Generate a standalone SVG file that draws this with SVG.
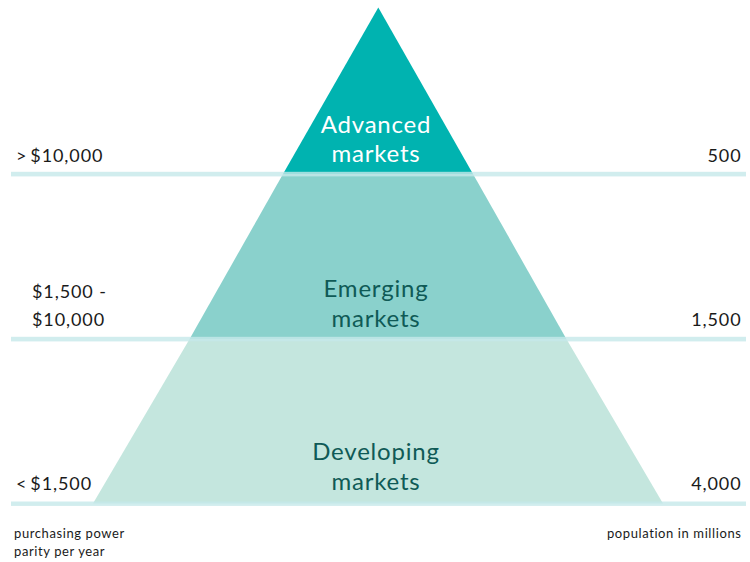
<svg xmlns="http://www.w3.org/2000/svg" width="750" height="562" viewBox="0 0 750 562">
  <style>
    .lbl { font-family: Lato, "Open Sans", "Liberation Sans", sans-serif; font-size: 18px; letter-spacing: 0.9px; fill: #1a1a1a; }
    .cap { font-family: Lato, "Open Sans", "Liberation Sans", sans-serif; font-size: 13px; letter-spacing: 0.6px; fill: #1a1a1a; }
    .tier { font-family: Lato, "Open Sans", "Liberation Sans", sans-serif; font-size: 24px; letter-spacing: 0.8px; text-anchor: middle; }
    .divider { fill: #c6e9ea; opacity: 0.8; }
  </style>
  <rect width="750" height="562" fill="#ffffff"/>

  <!-- pyramid tiers -->
  <g id="developing">
    <polygon points="189.6,339 566.4,339 663,503.5 93,503.5" fill="#c4e6de"/>
    <text class="tier" x="376" y="460" fill="#0f5a56">Developing</text>
    <text class="tier" x="376" y="490" fill="#0f5a56">markets</text>
  </g>
  <g id="emerging">
    <polygon points="283,174 473,174 566.4,339 189.6,339" fill="#8ad1cc"/>
    <text class="tier" x="376" y="297" fill="#0f5a56">Emerging</text>
    <text class="tier" x="376" y="327" fill="#0f5a56">markets</text>
  </g>
  <g id="advanced">
    <polygon points="378.3,7.5 473,174 283,174" fill="#00b3b0"/>
    <text class="tier" x="376" y="133" fill="#ffffff">Advanced</text>
    <text class="tier" x="376" y="162" fill="#ffffff">markets</text>
  </g>

  <!-- income band dividers -->
  <g id="dividers">
    <rect class="divider" x="11" y="171.8" width="735" height="4.6"/>
    <rect class="divider" x="11" y="336.8" width="735" height="4.6"/>
    <rect class="divider" x="11" y="501.5" width="735" height="4.4"/>
  </g>

  <!-- purchasing power labels -->
  <g id="ppp-labels">
    <text class="lbl" x="16" y="162">&gt;<tspan dx="3">$10,000</tspan></text>
    <text class="lbl" x="32" y="298">$1,500 -</text>
    <text class="lbl" x="32" y="326">$10,000</text>
    <text class="lbl" x="16" y="490">&lt;<tspan dx="3">$1,500</tspan></text>
  </g>

  <!-- population labels -->
  <g id="population-labels" text-anchor="end">
    <text class="lbl" x="741.5" y="162">500</text>
    <text class="lbl" x="741.5" y="326">1,500</text>
    <text class="lbl" x="741.5" y="490">4,000</text>
  </g>

  <!-- axis captions -->
  <g id="captions">
    <text class="cap" x="14" y="538">purchasing power</text>
    <text class="cap" x="14" y="556">parity per year</text>
    <text class="cap" x="741.5" y="538" text-anchor="end">population in millions</text>
  </g>
</svg>
